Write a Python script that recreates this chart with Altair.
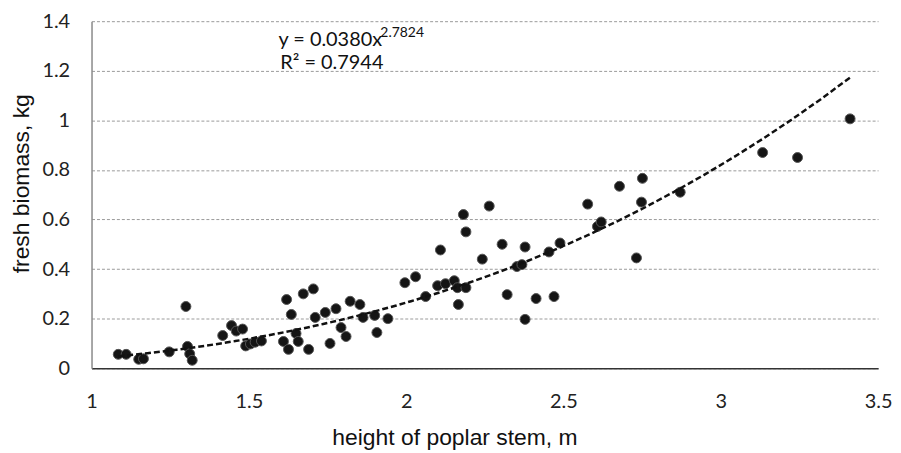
import altair as alt
import pandas as pd

# stem height (m) and fresh biomass (kg)
height_m = [1.085, 1.11, 1.15, 1.165, 1.247, 1.30, 1.305, 1.312, 1.32,
            1.417, 1.445, 1.46, 1.48, 1.49, 1.505, 1.52, 1.54,
            1.62, 1.635, 1.61, 1.626, 1.65, 1.657, 1.69, 1.673, 1.705,
            1.711, 1.743, 1.777, 1.758, 1.793, 1.809, 1.822, 1.853, 1.863,
            1.90, 1.942, 1.907, 1.996, 2.03, 2.062, 2.109, 2.10, 2.125,
            2.153, 2.163, 2.19, 2.166, 2.182, 2.19, 2.264, 2.242, 2.305,
            2.321, 2.378, 2.352, 2.368, 2.378, 2.413, 2.454, 2.47, 2.489,
            2.577, 2.608, 2.62, 2.678, 2.751, 2.748, 2.732, 2.871,
            3.133, 3.244, 3.411]
biomass_kg = [0.056, 0.056, 0.036, 0.038, 0.066, 0.249, 0.088, 0.058, 0.032,
              0.132, 0.172, 0.150, 0.158, 0.090, 0.098, 0.105, 0.110,
              0.277, 0.217, 0.108, 0.076, 0.140, 0.108, 0.076, 0.300, 0.320,
              0.205, 0.225, 0.240, 0.100, 0.164, 0.128, 0.270, 0.257, 0.205,
              0.213, 0.200, 0.144, 0.345, 0.369, 0.289, 0.477, 0.333, 0.341,
              0.353, 0.325, 0.325, 0.257, 0.620, 0.550, 0.654, 0.440, 0.500,
              0.297, 0.489, 0.410, 0.418, 0.197, 0.281, 0.469, 0.289, 0.505,
              0.662, 0.572, 0.590, 0.734, 0.766, 0.670, 0.445, 0.710,
              0.870, 0.850, 1.006]

x_ticks = [1, 1.5, 2, 2.5, 3, 3.5]
y_ticks = [0, 0.2, 0.4, 0.6, 0.8, 1.0, 1.2, 1.4]

eq_main = "y = 0.0380x"
eq_exp = "2.7824"
eq_r2 = "R\u00b2 = 0.7944"

df = pd.DataFrame({"h": height_m, "b": biomass_kg})

xs = alt.Scale(domain=[1, 3.5], nice=False, zero=False)
ys = alt.Scale(domain=[0, 1.4], nice=False)

x_axis = alt.Axis(values=x_ticks, format="~g", grid=False, ticks=False,
                  domainColor="#333333", domainWidth=1.5,
                  labelFont="Lato", labelFontSize=20, labelColor="#222222",
                  labelPadding=23, labelFlush=False,
                  title="height of poplar stem, m", titleFont="Liberation Sans",
                  titleFontSize=23, titleFontWeight="normal", titleColor="#111111",
                  titleX=365, titleY=77, titleBaseline="alphabetic", titleAlign="center")
y_axis = alt.Axis(values=y_ticks, format="~g", grid=True, gridDash=[3, 2],
                  gridColor="#9a9a9a", gridWidth=1, ticks=False,
                  domainColor="#8a8a8a", domainWidth=1.5,
                  labelFont="Lato", labelFontSize=20, labelColor="#222222",
                  labelPadding=22,
                  title="fresh biomass, kg", titleFont="Liberation Sans",
                  titleFontSize=23, titleFontWeight="normal", titleColor="#111111",
                  titleAngle=270, titleX=-63, titleY=163,
                  titleBaseline="alphabetic", titleAlign="center")

base = alt.Chart(df)

points = base.mark_circle(size=100, color="#151515", stroke="#555555",
                          strokeWidth=1, opacity=1).encode(
    x=alt.X("h:Q", scale=xs, axis=x_axis),
    y=alt.Y("b:Q", scale=ys, axis=y_axis),
)

trend = base.transform_regression("h", "b", method="pow").mark_line(
    color="#111111", strokeDash=[6, 3], strokeWidth=2.5).encode(
    x=alt.X("h:Q", scale=xs),
    y=alt.Y("b:Q", scale=ys),
)

t1 = alt.Chart().mark_text(align="left", baseline="alphabetic", font="Lato",
                           fontSize=20, color="#111111").encode(
    x=alt.datum(1.594, scale=xs), y=alt.datum(1.298, scale=ys), text=alt.value(eq_main))
t2 = alt.Chart().mark_text(align="left", baseline="alphabetic", font="Lato",
                           fontSize=14, color="#111111").encode(
    x=alt.datum(1.918, scale=xs), y=alt.datum(1.336, scale=ys), text=alt.value(eq_exp))
t3 = alt.Chart().mark_text(align="left", baseline="alphabetic", font="Lato",
                           fontSize=20, color="#111111").encode(
    x=alt.datum(1.60, scale=xs), y=alt.datum(1.208, scale=ys), text=alt.value(eq_r2))

chart = alt.layer(points, trend, t1, t2, t3).properties(
    width=791, height=349,
    padding={"left": 84, "top": 12, "right": 15, "bottom": 84},
    autosize=alt.AutoSizeParams(type="none"),
    background="white",
).configure_view(stroke=None)

chart.save("out.html", embed_options={"renderer": "svg", "actions": False})
